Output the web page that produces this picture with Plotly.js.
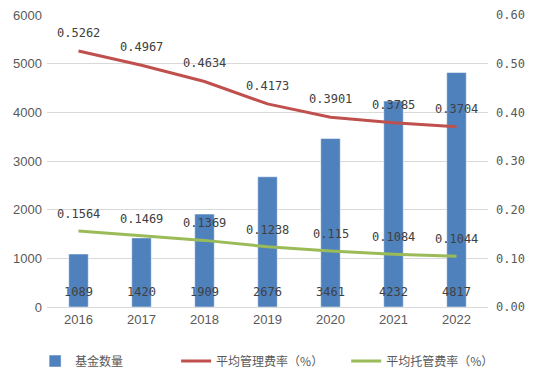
<!DOCTYPE html>
<html><head><meta charset="utf-8">
<script src="https://cdn.plot.ly/plotly-3.0.1.min.js"></script>
<style>html,body{margin:0;padding:0;background:#fff}#c{width:537px;height:377px}</style>
</head><body><div id="c"></div>
<script>
const years = [2016,2017,2018,2019,2020,2021,2022];
const fundCount = [1089,1420,1909,2676,3461,4232,4817];
const mgmtFee = [0.5262,0.4967,0.4634,0.4173,0.3901,0.3785,0.3704];
const custFee = [0.1564,0.1469,0.1369,0.1238,0.115,0.1084,0.1044];
const mgmtLabels = ['0.5262','0.4967','0.4634','0.4173','0.3901','0.3785','0.3704'];
const custLabels = ['0.1564','0.1469','0.1369','0.1238','0.115','0.1084','0.1044'];
const seriesNames = ['基金数量','平均管理费率（%）','平均托管费率（%）'];

const labelFont = {family:'DejaVu Sans Mono, monospace', size:12, color:'#404040'};
const tickFont = {family:'Liberation Sans, Arial, sans-serif', size:13, color:'#595959'};
const pad = n => '\u3000'.repeat(n);

const traces = [
  {type:'bar', x:years, y:fundCount, name:seriesNames[0] + pad(4), marker:{color:'#4f81bd', line:{color:'#ffffff', width:0.5}}, width:0.31, hoverinfo:'skip'},
  {type:'scatter', mode:'lines', x:years, y:mgmtFee, yaxis:'y2', name:seriesNames[1] + pad(2), line:{color:'#c0504d', width:3}},
  {type:'scatter', mode:'lines', x:years, y:custFee, yaxis:'y2', name:seriesNames[2], line:{color:'#9bbb59', width:3}}
];

const annotations = [];
years.forEach((yr,i)=>{
  annotations.push({x:yr, y:0, xref:'x', yref:'y', text:String(fundCount[i]), showarrow:false, yshift:15, font:labelFont});
  annotations.push({x:yr, y:mgmtFee[i], xref:'x', yref:'y2', text:mgmtLabels[i], showarrow:false, yshift:18, font:labelFont});
  annotations.push({x:yr, y:custFee[i], xref:'x', yref:'y2', text:custLabels[i], showarrow:false, yshift:17, font:labelFont});
});

const layout = {
  width:537, height:377,
  margin:{l:47, r:49, t:15, b:70, autoexpand:false},
  paper_bgcolor:'#fff', plot_bgcolor:'#fff',
  showlegend:true,
  legend:{orientation:'h', x:-0.027, xanchor:'left', y:-0.185, yanchor:'middle', font:{family:'Noto Sans CJK SC, sans-serif', size:12, color:'#595959'}, traceorder:'normal'},
  xaxis:{type:'linear', range:[2015.5,2022.5], tickvals:years, ticktext:years.map(String), tickfont:tickFont, showgrid:false, showline:true, linecolor:'#d9d9d9', ticks:'', zeroline:false},
  yaxis:{range:[0,6000], dtick:1000, tickfont:tickFont, gridcolor:'#d9d9d9', zeroline:false, ticks:'', ticklabelstandoff:4},
  yaxis2:{range:[0,0.6], dtick:0.1, tickformat:'.2f', overlaying:'y', side:'right', showgrid:false, zeroline:false, tickfont:{family:'DejaVu Sans Mono, monospace', size:12, color:'#595959'}, ticks:'', ticklabelstandoff:7},
  annotations:annotations
};
Plotly.newPlot('c', traces, layout, {displayModeBar:false, staticPlot:true});
</script></body></html>
